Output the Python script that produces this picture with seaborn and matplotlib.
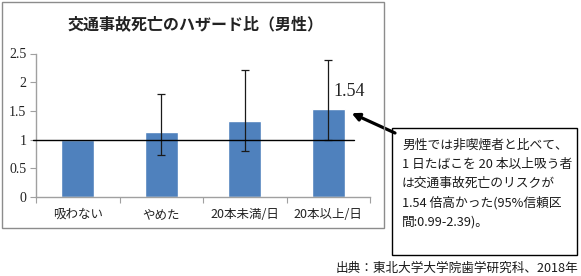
import matplotlib
matplotlib.use("Agg")
import matplotlib.pyplot as plt
import seaborn as sns
import pandas as pd
import numpy as np
from matplotlib.patches import Rectangle

# ---- data ----
categories = ["吸わない", "やめた", "20本未満/日", "20本以上/日"]
hazard_ratio = [1.00, 1.13, 1.33, 1.54]
ci_lower = [np.nan, 0.73, 0.80, 0.99]
ci_upper = [np.nan, 1.80, 2.21, 2.39]
reference_value = 1.0
y_ticks = [0, 0.5, 1, 1.5, 2, 2.5]
y_tick_labels = ["0", "0.5", "1", "1.5", "2", "2.5"]
title = "交通事故死亡のハザード比（男性）"
note_lines = [
    "男性では非喫煙者と比べて、",
    "1 日たばこを 20 本以上吸う者",
    "は交通事故死亡のリスクが",
    "1.54 倍高かった(95%信頼区",
    "間:0.99-2.39)。",
]
source = "出典：東北大学大学院歯学研究科、2018年"

sns.set_theme(style="white")
plt.rcParams["font.family"] = ["Noto Sans CJK JP", "DejaVu Sans"]

W, H = 581, 276
fig = plt.figure(figsize=(W / 100, H / 100), dpi=100)

def fx(px):
    return px / W

def fy(py):
    return 1 - py / H

ax = fig.add_axes([fx(36), fy(197), (370 - 36) / W, (197 - 53.5) / H])

df = pd.DataFrame({"cat": categories, "hr": hazard_ratio})
sns.barplot(data=df, x="cat", y="hr", order=categories, color="#4F81BD",
            saturation=1, width=0.4, ax=ax, errorbar=None)

# error bars
hr = np.array(hazard_ratio)
lo = np.array(ci_lower)
up = np.array(ci_upper)
xs = np.arange(len(categories))
mask = ~np.isnan(lo)
ax.errorbar(xs[mask], hr[mask], yerr=[hr[mask] - lo[mask], up[mask] - hr[mask]],
            fmt="none", ecolor="#1a1a1a", elinewidth=0.9, capsize=3, capthick=0.9)

# reference line
ax.plot([-0.54, 3.31], [reference_value, reference_value], color="black", lw=1.0,
        clip_on=False, zorder=3)

ax.set_xlim(-0.5, 3.5)
ax.set_ylim(0, 2.5)
ax.set_yticks(y_ticks)
ax.set_yticklabels(y_tick_labels, fontfamily="Liberation Serif", fontsize=10, color="#222222")
ax.set_xlabel("")
ax.set_ylabel("")
ax.set_xticks(xs)
ax.set_xticklabels(categories, fontsize=9, color="#222222")
ax.set_xticks(np.arange(-0.5, 4.0, 1.0), minor=True)
ax.tick_params(axis="x", which="major", length=0, pad=8)
ax.tick_params(axis="x", which="minor", length=4, direction="out", color="#a0a0a0", width=0.8)
ax.tick_params(axis="y", length=4, direction="out", color="#a0a0a0", width=0.8, pad=3)
ax.tick_params(left=True, bottom=True)
ax.tick_params(axis="x", which="minor", bottom=True)
for s in ["top", "right"]:
    ax.spines[s].set_visible(False)
for s in ["left", "bottom"]:
    ax.spines[s].set_color("#a0a0a0")
    ax.spines[s].set_linewidth(1.0)

# value label
ax.text(3.25, hazard_ratio[3] + 0.29, f"{hazard_ratio[3]:.2f}", ha="center", va="center",
        fontfamily="Liberation Serif", fontsize=13, color="#222222")

# arrow from note box to the bar
ax.annotate("", xy=(3.28, hazard_ratio[3] - 0.08), xycoords="data",
            xytext=(fx(395), fy(133)), textcoords="figure fraction",
            arrowprops=dict(arrowstyle="-|>", lw=2.3, color="black", mutation_scale=11,
                            shrinkA=0, shrinkB=0))

# chart frame
fig.patches.append(Rectangle((fx(2), fy(228)), fx(384) - fx(2), fy(2) - fy(228),
                             transform=fig.transFigure, fill=False,
                             edgecolor="#8c8c8c", lw=1.0))

# title
fig.text(fx(196), fy(24), title, ha="center", va="center", fontsize=11.5,
         fontweight="bold", color="#222222")

# note box
fig.patches.append(Rectangle((fx(392), fy(255)), fx(577) - fx(392), fy(128) - fy(255),
                             transform=fig.transFigure, fill=False,
                             edgecolor="black", lw=1.0))
for i, line in enumerate(note_lines):
    fig.text(fx(402), fy(145 + i * 19.3), line, ha="left", va="center",
             fontsize=9.2, color="#1a1a1a")

# source
fig.text(fx(578), fy(268), source, ha="right", va="center", fontsize=9.1, color="#1a1a1a")

fig.savefig("out.png", dpi=100)
